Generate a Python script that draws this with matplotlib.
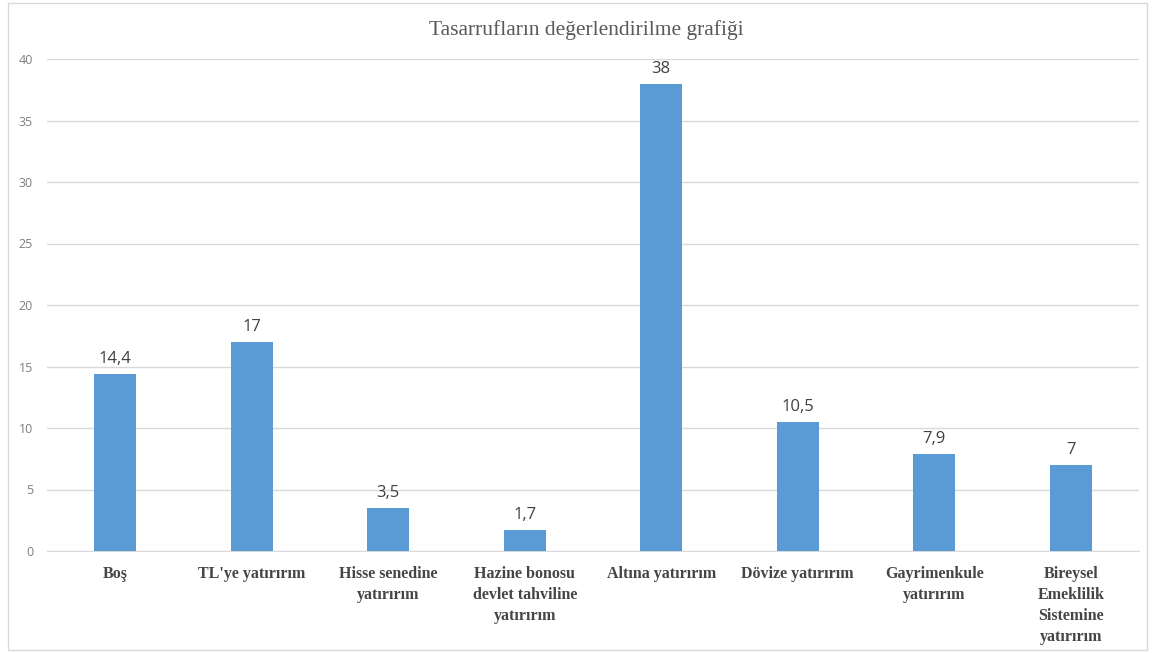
import matplotlib
matplotlib.use("Agg")
import matplotlib.pyplot as plt
from matplotlib.patches import Rectangle

categories = [
    "Boş",
    "TL'ye yatırırım",
    "Hisse senedine\nyatırırım",
    "Hazine bonosu\ndevlet tahviline\nyatırırım",
    "Altına yatırırım",
    "Dövize yatırırım",
    "Gayrimenkule\nyatırırım",
    "Bireysel\nEmeklilik\nSistemine\nyatırırım",
]
values = [14.4, 17, 3.5, 1.7, 38, 10.5, 7.9, 7]
value_labels = ["14,4", "17", "3,5", "1,7", "38", "10,5", "7,9", "7"]
yticks = [0, 5, 10, 15, 20, 25, 30, 35, 40]

title = "Tasarrufların değerlendirilme grafiği"

fig = plt.figure(figsize=(11.55, 6.53), dpi=100)
fig.patch.set_facecolor("white")

# outer chart frame
fig.patches.append(Rectangle((8 / 1155, 3 / 653), 1139 / 1155, 647 / 653,
                             transform=fig.transFigure, fill=False,
                             edgecolor="#d9d9d9", linewidth=1.0))

ax = fig.add_axes([47 / 1155, 1 - 551 / 653, 1092 / 1155, 492 / 653])
x = list(range(len(categories)))
ax.bar(x, values, width=0.31, color="#5b9bd5", zorder=3)

ax.set_xlim(-0.5, len(categories) - 0.5)
ax.set_ylim(0, 40)
ax.set_yticks(yticks)
ax.set_yticklabels([str(t) for t in yticks], fontsize=9, color="#7f7f7f",
                   family="Open Sans")
ax.tick_params(axis="y", length=0, pad=10)
ax.tick_params(axis="x", length=0, pad=11)
ax.set_xticks(x)
ax.set_xticklabels(categories, fontsize=11.5, fontweight="bold", color="#454545",
                   family="Liberation Serif", linespacing=1.4, va="top")

ax.grid(axis="y", color="#d9d9d9", linewidth=1.0, zorder=0)
for s in ["top", "right", "left"]:
    ax.spines[s].set_visible(False)
ax.spines["bottom"].set_color("#d9d9d9")

for xi, v, lab in zip(x, values, value_labels):
    ax.annotate(lab, (xi, v), xytext=(0, 5), textcoords="offset points",
                ha="center", va="bottom", fontsize=12, color="#404040",
                family="Open Sans")

fig.text(0.508, 1 - 30 / 653, title, ha="center", va="center", fontsize=15.5,
         color="#595959", family="Liberation Serif")

fig.savefig("out.png", dpi=100, facecolor="white")
